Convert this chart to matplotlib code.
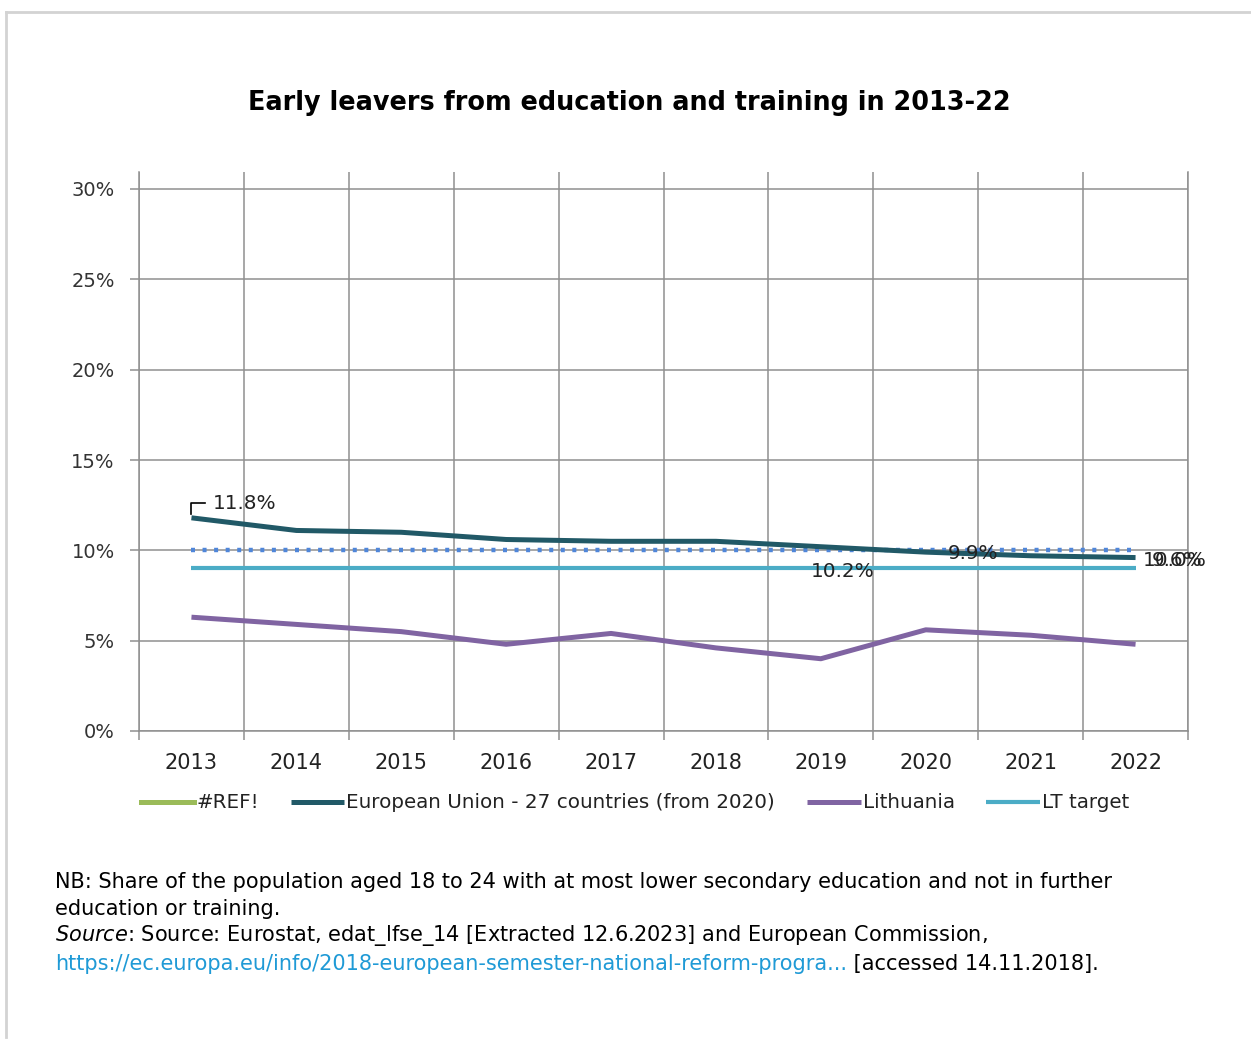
import numpy as np
import matplotlib
matplotlib.use("Agg")
import matplotlib.pyplot as plt
from matplotlib.lines import Line2D

plt.rcParams['font.family'] = ['DejaVu Sans']
plt.rcParams['mathtext.fontset'] = 'dejavusans'

# data
years = ['2013', '2014', '2015', '2016', '2017', '2018', '2019', '2020', '2021', '2022']
eu27 = [11.8, 11.1, 11.0, 10.6, 10.5, 10.5, 10.2, 9.9, 9.7, 9.6]
lithuania = [6.3, 5.9, 5.5, 4.8, 5.4, 4.6, 4.0, 5.6, 5.3, 4.8]
lt_target = [9.0] * 10
eu_target = [10.0] * 10
y_ticks = [0, 5, 10, 15, 20, 25, 30]

W, H = 1251, 1039
fig = plt.figure(figsize=(W / 100, H / 100), dpi=100)

# light frame round the chart
fig.add_artist(Line2D([6 / W, 6 / W], [2 / H, 1 - 12 / H], transform=fig.transFigure,
                      color='#d3d3d3', lw=2))
fig.add_artist(Line2D([6 / W, 1], [1 - 12 / H, 1 - 12 / H], transform=fig.transFigure,
                      color='#d3d3d3', lw=2))

# plot area (pixel box: x 139-1188, y 172-731)
ax = fig.add_axes([139 / W, (H - 731) / H, (1188 - 139) / W, (731 - 172) / H])
ymax = 30 * (731 - 172) / (731 - 189)
ax.set_ylim(0, ymax)
ax.set_xlim(-0.5, 9.5)

x = np.arange(len(years))
grid_col = '#8f8f8f'

ax.set_yticks(y_ticks)
ax.set_yticklabels([f'{v}%' for v in y_ticks])
ax.set_xticks(x)
ax.set_xticklabels(years)
ax.set_xticks(np.arange(-0.5, 10, 1), minor=True)

ax.tick_params(axis='y', length=6.5, width=1.1, color=grid_col, pad=11, labelsize=14,
               labelcolor='#333333')
ax.tick_params(axis='x', which='major', length=0, pad=16, labelsize=15, labelcolor='#222222')
ax.tick_params(axis='x', which='minor', length=6.5, width=1.1, color=grid_col)

ax.grid(axis='y', which='major', color=grid_col, lw=1.1)
ax.grid(axis='x', which='minor', color=grid_col, lw=1.1)
ax.set_axisbelow(True)
for side in ['left', 'bottom', 'right']:
    ax.spines[side].set_color(grid_col)
    ax.spines[side].set_linewidth(1.1)
ax.spines['top'].set_visible(False)

# series
ax.plot([], [], color='#9bbb59', lw=3.6, label='#REF!')
ax.plot(x, eu27, color='#215967', lw=3.6, label='European Union - 27 countries (from 2020)',
        solid_capstyle='butt', zorder=4)
ax.plot(x, lithuania, color='#8064a2', lw=3.6, label='Lithuania', solid_capstyle='butt', zorder=4)
ax.plot(x, lt_target, color='#4bacc6', lw=3.0, label='LT target', solid_capstyle='butt', zorder=3)
ax.plot(x, eu_target, color='#4f86d9', lw=3.2, linestyle=(0, (0.9, 1.7)), dash_capstyle='butt',
        zorder=3, label='_nolegend_')

# data labels
lab = dict(textcoords='offset pixels', fontsize=14.4, color='#222222', va='center', zorder=6)
ax.annotate('11.8%', xy=(0, eu27[0]), xytext=(21, 14), ha='left', **lab)
ax.plot([0, 0, 0.13], [eu27[0] + 0.2, eu27[0] + 0.8, eu27[0] + 0.8], color='black', lw=1.2,
        zorder=6)
ax.annotate(f'{eu27[6]}%', xy=(6, eu27[6]), xytext=(22, -25), ha='center', **lab)
ax.annotate(f'{eu27[7]}%', xy=(7, eu27[7]), xytext=(47, -1), ha='center', **lab)
ax.annotate(f'{eu_target[9]:.1f}%', xy=(9, eu_target[9]), xytext=(7, -10), ha='left', **lab)
ax.annotate(f'{eu27[9]}%', xy=(9, eu27[9]), xytext=(16, -3), ha='left', **lab)

leg = fig.legend(loc='center', bbox_to_anchor=(635 / W, 1 - 803 / H), ncol=4, frameon=False,
                 fontsize=14.3, handlelength=2.7, handletextpad=0.1, columnspacing=1.6)
for t in leg.get_texts():
    t.set_color('#222222')

fig.suptitle('Early leavers from education and training in 2013-22', x=629 / W, y=1 - 103 / H,
             va='center', fontsize=18.4, fontweight='bold')

# notes below the chart
fs = 15
fig.text(55 / W, 1 - 882 / H, 'NB: Share of the population aged 18 to 24 with at most lower '
         'secondary education and not in further', fontsize=fs, va='center')
fig.text(55 / W, 1 - 909 / H, 'education or training.', fontsize=fs, va='center')
fig.text(55 / W, 1 - 936 / H, r'$\mathit{Source}$: Source: Eurostat, edat_lfse_14 '
         '[Extracted 12.6.2023] and European Commission,', fontsize=fs, va='center')
link = fig.text(55 / W, 1 - 964 / H,
                'https://ec.europa.eu/info/2018-european-semester-national-reform-progra...',
                fontsize=fs, va='center', color='#1f9ad6')
fig.add_artist(plt.Annotation(' [accessed 14.11.2018].', xy=(1, 0), xycoords=link,
                              va='bottom', ha='left', fontsize=fs, annotation_clip=False))

fig.savefig('out.png', dpi=100)
